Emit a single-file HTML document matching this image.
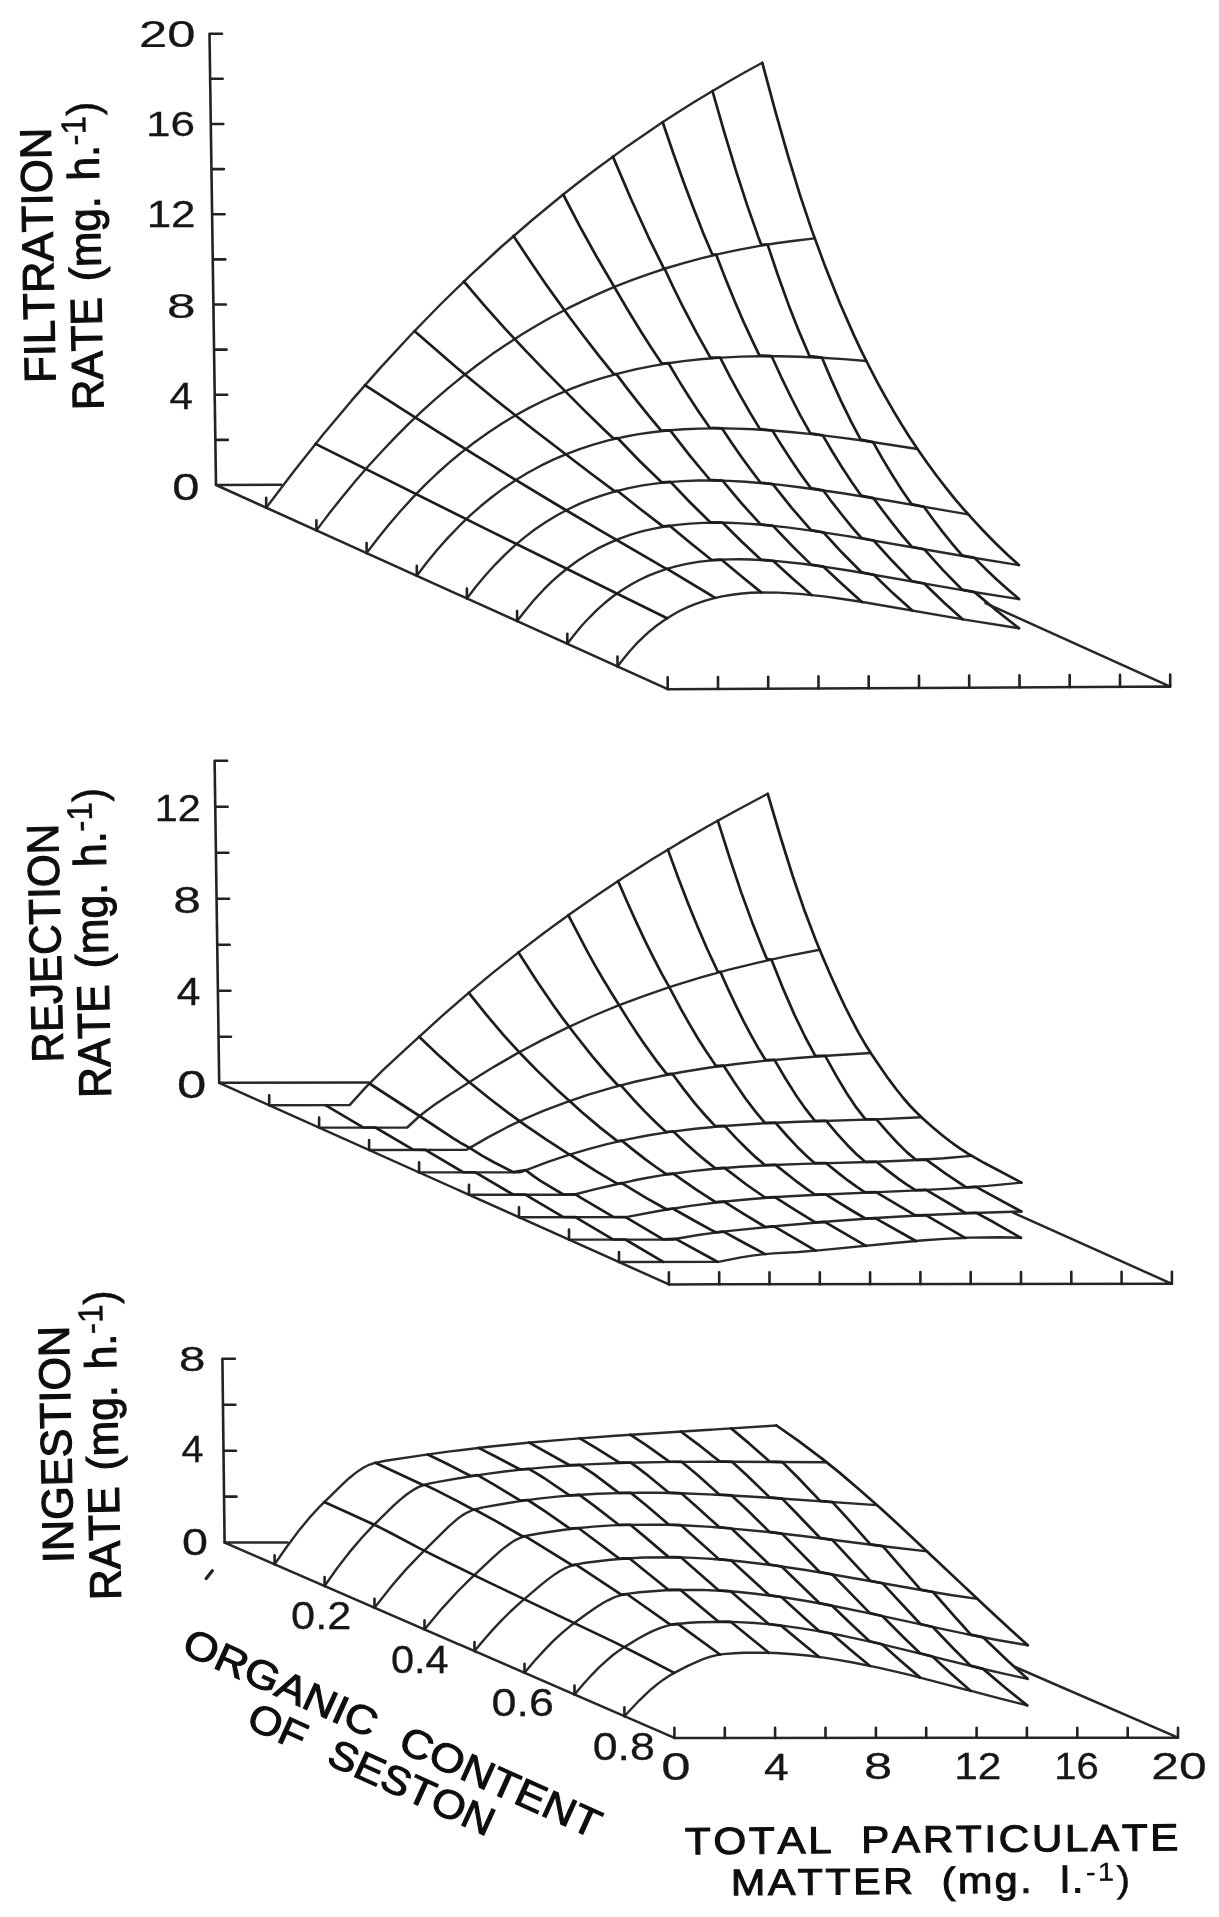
<!DOCTYPE html>
<html><head><meta charset="utf-8"><style>
html,body{margin:0;padding:0;background:#fff;}
body{width:1219px;height:1917px;overflow:hidden;position:relative;}
svg{position:absolute;left:0;top:0;}
path.o{stroke:#2a2a2a;stroke-width:2.4px}
path.t{stroke:#1e1e1e;stroke-width:2.7px}
path.b{stroke:#262626;stroke-width:2.5px}
path.a{stroke:#222;stroke-width:2.6px}
text{font-family:"Liberation Sans",sans-serif;fill:#111;font-size:100px;font-kerning:none;word-spacing:37px;stroke:#111;stroke-width:1.1px;vector-effect:non-scaling-stroke;}
text.d{stroke-width:0.3px;fill:#161616;stroke:#161616}
</style></head><body>
<svg width="1219" height="1917" viewBox="0 0 1219 1917">
<defs><filter id="bl" x="-5%" y="-5%" width="110%" height="110%"><feGaussianBlur stdDeviation="0.6"/></filter></defs>
<g filter="url(#bl)">
<g fill="none" stroke="#222" stroke-width="2.7" stroke-linecap="round" stroke-linejoin="round">
<path class="o" d="M266.2,507.7 294.5,470.4 322.9,434.8 351.3,400.9 381.0,367.1 410.7,335.0 440.4,304.5 470.1,275.6 501.1,247.0 532.2,220.0 563.2,194.5 579.4,181.8 595.5,169.5 627.8,145.9 660.2,123.8 676.4,113.3 693.8,102.3 727.4,82.2 744.9,72.3 762.3,62.8M316.4,530.4 328.7,514.1 342.3,496.9 354.6,482.0 368.2,466.3 380.6,452.7 394.2,438.4 407.8,424.7 421.5,411.7 435.1,399.4 448.8,387.7 462.4,376.5 477.3,365.0 492.2,354.1 507.2,343.9 522.1,334.3 537.1,325.3 552.0,316.8 568.2,308.2 583.2,300.8 599.4,293.3 615.6,286.4 633.1,279.6 649.4,273.8 666.9,268.0 684.4,262.8 701.9,258.1 719.5,253.9 738.2,249.9 757.0,246.4 775.8,243.3 794.6,240.7 814.7,238.4M366.6,553.1 377.7,538.5 388.8,524.7 399.9,511.7 412.3,498.1 424.6,485.4 437.0,473.5 449.4,462.4 461.9,452.1 474.3,442.5 488.0,432.7 501.6,423.7 515.3,415.5 529.1,407.9 544.0,400.5 557.8,394.3 572.7,388.2 587.7,382.7 602.8,377.9 619.0,373.4 635.3,369.4 651.6,366.1 667.9,363.3 685.4,360.9 703.0,359.0 721.8,357.6 740.6,356.6 759.5,356.2 779.6,356.2 799.7,356.7 821.1,357.7 843.7,359.1 866.3,361.0M416.8,575.8 426.6,562.8 437.7,549.3 447.6,538.1 458.8,526.5 469.9,515.7 481.1,505.8 492.3,496.7 503.4,488.4 515.9,480.0 528.3,472.5 540.8,465.7 553.3,459.6 565.8,454.3 579.5,449.1 593.3,444.6 608.3,440.4 622.1,437.3 637.1,434.4 652.1,432.2 667.2,430.5 683.5,429.3 699.8,428.6 717.4,428.3 735.0,428.6 753.9,429.3 772.7,430.5 792.9,432.2 814.2,434.4 836.9,437.1 860.8,440.3 917.5,449.0M466.9,598.5 475.6,587.1 485.5,575.2 495.4,564.3 505.3,554.3 515.2,545.2 525.1,536.9 535.1,529.3 546.3,521.7 557.5,515.0 568.7,509.0 579.9,503.7 591.2,499.1 603.7,494.8 616.2,491.1 628.7,488.1 642.5,485.4 655.0,483.6 668.8,482.1 682.6,481.1 697.7,480.5 712.8,480.5 729.1,480.9 745.4,481.8 763.0,483.2 780.7,484.9 799.5,487.2 841.1,493.0 888.9,500.7 968.3,514.4M517.1,621.1 525.8,609.9 534.4,599.6 543.1,590.2 551.7,581.7 560.4,574.0 570.4,566.0 579.1,559.8 589.0,553.5 599.0,547.9 609.0,543.1 620.2,538.4 631.5,534.4 642.7,531.2 654.0,528.6 666.5,526.3 679.1,524.6 690.4,523.6 702.9,522.9 715.5,522.7 728.0,522.8 741.9,523.4 755.7,524.3 770.8,525.6 787.2,527.4 814.9,531.1 847.6,536.1 967.2,556.7 1018.9,565.1M567.3,643.8 574.7,634.2 582.1,625.3 589.6,617.3 597.0,609.9 604.4,603.3 613.1,596.3 621.8,590.2 630.6,584.8 639.3,580.0 648.0,575.9 656.8,572.3 666.8,568.9 676.8,566.1 686.8,563.9 698.1,561.9 709.4,560.6 719.4,559.8 729.4,559.4 739.5,559.3 750.8,559.5 774.7,560.9 802.4,563.8 825.0,566.9 850.2,570.8 962.3,590.1 1019.0,599.1M617.5,666.5 623.7,658.4 629.9,651.0 636.0,644.2 643.5,636.8 649.7,631.2 657.1,625.2 664.6,619.9 672.1,615.2 679.5,611.0 688.3,606.9 695.8,603.8 704.5,600.8 713.3,598.4 722.0,596.4 732.1,594.7 742.1,593.5 750.9,592.8 759.7,592.5 778.5,592.6 799.9,593.9 823.8,596.4 842.7,599.0 864.1,602.3 966.1,619.9 1019.0,628.2"/>
<path class="t" d="M315.5,443.9 486.8,529.4 667.1,618.2M364.9,385.2 401.7,408.9 438.4,432.2 476.1,455.7 514.4,479.1 555.6,504.0 598.4,529.3 665.9,568.7 667.1,568.8 715.2,597.9M414.4,331.1 454.8,366.1 475.5,383.3 496.2,400.2 535.0,430.8 591.9,474.2 614.5,491.1 617.3,490.8 639.9,508.7 662.9,526.4 669.7,525.8 690.5,543.0 711.7,560.0 721.6,559.7 741.4,576.3 761.2,592.4M463.9,281.5 484.7,305.8 505.0,328.6 525.8,350.9 547.0,372.9 584.3,410.4 604.7,430.3 613.5,438.6 617.7,438.2 639.4,460.7 661.6,482.3 670.5,481.9 690.2,502.5 710.3,522.3 722.7,522.7 741.6,541.5 760.8,559.6 773.1,560.8 792.3,578.3 811.5,595.0M513.5,236.0 530.4,261.6 546.7,285.4 569.9,317.7 584.4,337.0 598.8,355.6 613.7,374.1 616.4,374.1 627.3,388.6 638.6,403.1 649.9,417.1 661.2,430.6 670.2,430.3 690.0,455.9 710.1,480.0 722.5,480.7 741.4,503.1 760.6,524.3 773.0,525.9 791.9,545.6 811.1,564.6 823.5,566.7 843.1,585.1 861.9,602.0M563.2,194.5 580.1,226.8 596.5,256.5 626.9,308.5 641.7,332.8 651.8,348.5 661.8,363.5 668.5,363.2 678.5,380.1 688.9,396.8 699.4,412.7 709.8,427.8 722.1,428.4 731.4,442.4 741.1,456.4 750.8,469.8 760.4,482.5 772.8,484.1 791.7,507.8 811.0,530.2 823.4,532.3 842.2,552.8 861.5,572.3 873.8,574.8 893.4,593.6 912.3,610.6M612.9,156.6 630.9,198.7 648.3,236.8 662.6,265.9 663.6,267.9 664.6,268.7 673.4,287.5 682.2,305.4 696.6,332.9 710.4,357.6 720.2,357.7 729.9,376.6 740.0,395.1 750.0,412.6 760.0,429.1 772.4,430.5 781.7,445.6 791.4,460.5 801.1,474.7 810.8,488.1 823.2,490.3 832.4,502.7 842.1,515.0 851.7,526.8 861.4,538.0 873.7,540.5 892.6,561.3 911.8,581.1 924.2,583.5 944.2,602.7 962.6,619.3M662.7,122.2 673.2,153.0 683.8,182.5 693.8,209.1 703.7,234.2 712.2,254.3 716.2,254.7 725.4,278.5 734.6,300.9 743.7,322.1 752.9,341.9 759.4,355.3 771.7,356.2 781.1,376.8 790.9,397.0 800.6,415.8 810.4,433.3 822.8,435.4 832.1,451.3 841.8,467.0 851.5,481.8 861.1,495.6 873.5,498.1 882.8,510.8 892.5,523.4 902.1,535.3 911.7,546.7 924.1,549.2 943.0,570.1 962.2,589.7 974.6,592.1 997.7,611.5 1019.0,628.2M712.5,91.0 724.3,132.3 736.1,171.2 747.4,205.8 758.1,236.4 761.1,244.3 767.6,244.6 777.8,275.0 788.4,304.4 799.0,331.4 809.6,356.2 822.0,357.7 831.4,379.9 841.2,401.4 851.0,421.3 860.7,439.7 873.1,442.1 882.4,458.6 892.1,474.8 901.8,489.9 911.5,504.1 923.9,506.7 933.2,519.5 942.8,532.1 952.5,544.1 962.1,555.4 974.5,557.9 985.6,568.9 996.7,579.4 1007.9,589.5 1019.0,599.1M762.3,62.8 775.5,111.9 788.1,156.1 800.1,195.4 811.6,229.6 825.6,267.6 840.1,303.7 854.0,335.4 861.2,350.6 868.4,365.0 876.6,380.8 884.8,395.8 893.0,410.2 901.7,424.6 909.3,436.8 917.5,449.0 927.1,462.8 936.8,476.0 946.0,487.8 955.6,499.8 964.7,510.4 974.9,521.7 985.5,533.0 996.6,544.3 1007.8,555.0 1018.9,565.1"/>
<path class="b" d="M216.0,485.0 281.3,484.7M667.7,689.2 1170.2,686.6M985.5,603.1 1170.2,686.6M216.0,485.0 667.7,689.2"/>
<path class="a" d="M216.0,485.0 L209.5,33.7M215.3,439.9 h12.5M214.7,394.7 h12.5M214.1,349.6 h12.5M213.4,304.5 h12.5M212.8,259.4 h12.5M212.1,214.2 h12.5M211.4,169.1 h12.5M210.8,124.0 h12.5M210.2,78.8 h12.5M209.5,33.7 h12.5M266.2,507.7 v-10M316.4,530.4 v-10M366.6,553.1 v-10M416.8,575.8 v-10M466.9,598.5 v-10M517.1,621.1 v-10M567.3,643.8 v-10M617.5,666.5 v-10M667.7,689.2 v-12M718.0,689.0 v-12M768.2,688.7 v-12M818.5,688.4 v-12M868.7,688.2 v-12M919.0,687.9 v-12M969.2,687.6 v-12M1019.5,687.4 v-12M1069.7,687.1 v-12M1120.0,686.9 v-12M1170.2,686.6 v-12"/>
<path class="o" d="M269.2,1105.2 349.6,1105.1 365.7,1087.4 381.9,1071.2 400.5,1053.8 442.7,1015.4 467.5,993.8 492.4,973.2 518.5,952.4 544.6,932.5 570.7,913.5 596.9,895.2 624.3,877.0 651.7,859.6 679.1,842.9 707.8,826.3 737.8,809.7 767.7,793.8M319.1,1127.6 407.2,1127.5 419.6,1116.0 427.0,1110.2 434.5,1104.8 449.5,1094.8 479.4,1075.8 494.3,1066.6 518.0,1052.9 543.0,1039.6 567.9,1027.3 592.9,1016.0 617.9,1005.7 644.2,995.8 671.7,986.4 699.3,977.9 728.1,969.9 756.9,962.8 787.0,956.1 819.6,949.7M369.1,1150.0 465.9,1149.9 467.2,1149.4 488.4,1137.1 507.1,1127.2 524.6,1118.9 543.3,1110.9 565.9,1102.4 588.4,1094.7 612.2,1087.7 636.0,1081.5 659.8,1076.3 683.6,1071.7 710.0,1067.5 736.3,1064.0 764.0,1060.9 794.1,1058.2 826.8,1055.7 870.7,1053.0M419.1,1172.4 519.7,1172.3 520.9,1172.1 547.2,1162.2 567.2,1155.4 587.3,1149.3 606.0,1144.3 627.4,1139.4 648.7,1135.3 670.0,1131.9 695.1,1128.7 727.8,1125.7 764.2,1123.3 799.4,1121.8 881.1,1119.1 921.3,1117.2M469.0,1194.8 573.4,1194.7 574.7,1194.5 593.5,1189.7 613.5,1185.0 632.3,1180.8 644.9,1178.3 661.2,1175.4 676.2,1173.2 692.5,1171.1 710.1,1169.2 740.3,1166.7 772.9,1165.0 803.1,1163.9 877.3,1161.8 912.5,1160.3 943.9,1158.3 971.5,1155.8M519.0,1217.2 625.9,1217.1 659.8,1210.7 688.6,1206.1 717.5,1202.3 748.9,1199.2 776.5,1197.0 807.9,1195.2 912.2,1190.6 949.9,1188.6 987.6,1185.9 1021.5,1182.6M569.0,1239.6 672.1,1239.5 699.7,1234.8 724.8,1231.4 780.1,1225.8 831.5,1221.3 879.3,1217.8 927.0,1215.0 973.5,1213.0 1021.3,1211.5M619.0,1262.0 718.3,1261.9 740.9,1257.4 752.2,1255.6 762.2,1254.4 773.5,1253.4 798.6,1252.0 821.3,1250.1 894.1,1243.0 924.2,1240.3 944.3,1238.9 969.5,1237.6 998.4,1237.2 1021.0,1237.8"/>
<path class="t" d="M325.4,1105.1 363.1,1127.3 375.4,1127.5 413.1,1149.7 425.4,1149.9 463.0,1172.1 475.4,1172.3 513.0,1194.5 525.3,1194.7 563.0,1216.9 575.3,1217.1 612.9,1239.3 625.3,1239.5 663.3,1261.9M369.5,1083.5 422.6,1118.0 453.7,1138.6 462.2,1143.8 469.7,1147.9 482.0,1155.6 493.9,1162.2 513.3,1172.1 525.6,1170.2 533.6,1176.2 540.9,1181.2 563.3,1194.5 575.6,1194.3 580.2,1197.4 613.3,1216.9 625.6,1217.1 663.2,1239.3 675.6,1238.9 717.7,1261.9M419.1,1036.7 437.2,1053.9 454.3,1069.3 469.4,1082.2 489.5,1098.5 507.6,1112.4 525.1,1125.1 545.6,1139.2 564.1,1151.2 569.1,1154.3 569.9,1154.5 597.2,1171.9 615.5,1182.6 617.4,1183.7 621.7,1183.1 646.5,1198.1 666.4,1209.3 672.8,1208.5 694.4,1220.7 715.6,1232.3 723.5,1231.6 744.8,1243.3 765.2,1254.1M468.8,992.8 486.5,1014.9 503.6,1035.1 518.3,1051.2 537.4,1070.9 556.5,1089.3 582.6,1112.7 600.5,1127.9 617.4,1141.1 621.8,1140.6 633.9,1150.4 645.1,1159.1 655.9,1167.0 666.2,1174.2 673.3,1173.6 695.5,1189.2 715.6,1202.2 724.0,1201.6 744.5,1214.4 765.4,1227.0 774.2,1226.4 815.6,1250.6M518.5,952.4 536.8,981.0 553.5,1005.5 562.6,1018.1 575.1,1034.5 592.4,1056.4 605.7,1072.0 618.0,1085.5 620.9,1085.3 633.2,1099.2 644.7,1111.4 655.6,1122.3 666.1,1132.0 673.4,1131.4 684.9,1142.4 695.4,1152.0 705.6,1160.6 715.3,1168.3 724.6,1167.9 746.3,1184.5 765.1,1197.5 774.9,1197.1 795.8,1210.4 815.3,1222.4 824.7,1221.9 866.0,1245.8M568.3,915.2 586.6,950.2 595.3,965.8 603.4,979.8 612.1,994.0 628.8,1020.6 637.5,1033.9 645.7,1045.9 656.3,1060.6 666.8,1074.1 672.3,1073.8 684.1,1089.6 694.9,1103.3 705.4,1115.5 715.3,1126.2 724.7,1125.9 736.1,1138.1 746.2,1148.3 755.9,1157.4 764.8,1165.0 775.6,1164.9 797.5,1182.2 806.6,1188.9 815.0,1194.5 825.6,1194.3 848.5,1208.5 865.3,1218.5 875.2,1218.1 915.9,1241.0M618.1,881.1 627.3,902.3 636.5,922.6 645.2,941.1 653.4,957.6 662.1,974.3 669.3,987.2 681.1,1009.3 689.2,1023.6 697.2,1037.2 706.6,1052.1 716.0,1065.9 723.5,1065.6 734.9,1083.1 745.3,1098.2 755.3,1111.4 764.9,1122.8 775.6,1122.8 786.7,1135.5 796.6,1146.2 806.1,1155.5 814.8,1163.2 826.2,1163.2 838.8,1173.4 848.2,1180.7 856.9,1186.9 865.1,1192.3 876.0,1192.2 915.3,1215.4 925.8,1215.1 965.2,1237.8M667.9,849.6 678.0,877.2 688.1,903.4 697.7,926.9 707.2,949.0 717.7,971.5 720.4,971.9 728.6,990.2 736.4,1006.6 743.7,1021.3 751.0,1035.1 758.3,1048.1 765.5,1060.0 774.5,1059.9 785.6,1078.8 795.8,1094.9 805.6,1108.9 814.9,1120.8 826.2,1120.9 837.6,1134.4 847.5,1145.2 856.5,1154.2 865.2,1161.8 876.4,1161.8 888.7,1171.4 898.6,1178.8 907.2,1184.9 915.5,1190.2 926.1,1189.9 965.3,1213.0 976.3,1212.9 993.8,1222.3 1021.0,1237.8M717.8,820.7 729.8,858.4 741.2,892.4 752.2,922.4 762.6,948.7 767.0,959.2 771.4,959.5 783.4,989.4 794.5,1014.9 805.2,1037.0 815.3,1055.8 825.2,1055.9 836.6,1076.4 846.7,1093.3 856.4,1107.7 865.3,1119.2 876.4,1119.3 888.0,1132.7 898.0,1143.5 907.1,1152.4 915.9,1159.8 926.2,1159.6 945.6,1173.6 966.2,1187.3 976.0,1186.9 1021.3,1211.5M767.7,793.8 780.8,838.0 792.7,876.0 804.1,909.4 815.5,939.6 822.7,957.0 830.9,976.0 838.1,991.9 845.2,1007.0 851.9,1020.2 858.5,1032.6 864.6,1043.2 870.7,1053.0 879.9,1066.6 888.5,1078.9 896.1,1089.0 903.7,1098.5 910.2,1106.0 916.8,1112.8 922.8,1118.5 932.9,1127.4 941.9,1135.0 950.9,1142.0 959.5,1148.2 967.5,1153.4 984.0,1162.8 1021.5,1182.6"/>
<path class="b" d="M219.2,1082.8 368.8,1082.6M668.9,1284.4 1171.9,1283.8M1013.0,1212.6 1171.9,1283.8M219.2,1082.8 668.9,1284.4"/>
<path class="a" d="M219.2,1082.8 L214.6,760.7M218.5,1036.8 h12.5M217.9,990.8 h12.5M217.2,944.7 h12.5M216.6,898.7 h12.5M215.9,852.7 h12.5M215.2,806.7 h12.5M214.6,760.7 h12.5M269.2,1105.2 v-10M319.1,1127.6 v-10M369.1,1150.0 v-10M419.1,1172.4 v-10M469.0,1194.8 v-10M519.0,1217.2 v-10M569.0,1239.6 v-10M619.0,1262.0 v-10M668.9,1284.4 v-12M719.2,1284.3 v-12M769.5,1284.3 v-12M819.8,1284.2 v-12M870.1,1284.2 v-12M920.4,1284.1 v-12M970.7,1284.0 v-12M1021.0,1284.0 v-12M1071.3,1283.9 v-12M1121.6,1283.9 v-12M1171.9,1283.8 v-12"/>
<path class="o" d="M274.6,1564.3 287.0,1546.5 298.1,1531.6 309.3,1517.9 320.5,1505.8 342.9,1483.9 349.1,1478.2 354.1,1474.1 359.1,1470.4 364.1,1467.3 369.1,1464.8 374.1,1463.1 385.4,1460.8 423.1,1455.1 448.2,1451.6 488.5,1446.8 530.0,1442.5 570.2,1439.1 615.5,1435.7 776.5,1425.5M324.6,1586.0 336.9,1568.5 349.3,1552.4 361.8,1537.7 372.9,1525.9 394.1,1505.2 400.3,1499.6 406.6,1494.5 412.8,1490.2 417.8,1487.4 422.8,1485.3 427.8,1483.9 436.6,1482.1 468.0,1476.7 486.9,1473.9 504.5,1471.5 523.3,1469.4 544.7,1467.4 566.1,1465.7 587.5,1464.4 626.5,1462.8 673.1,1461.9 727.2,1461.8 826.7,1462.3M374.5,1607.7 391.9,1585.8 400.6,1575.6 408.0,1567.3 419.2,1555.6 449.1,1526.1 457.8,1518.6 462.8,1515.1 466.6,1512.8 472.8,1510.0 482.9,1507.4 506.7,1503.2 521.8,1500.9 540.7,1498.4 559.5,1496.4 577.2,1495.0 597.3,1493.8 618.7,1493.1 640.1,1492.8 657.7,1492.8 681.6,1493.3 727.0,1495.2 766.0,1497.5 876.9,1505.1M424.5,1629.4 441.9,1608.6 458.1,1591.0 469.3,1579.9 492.9,1557.6 501.6,1549.9 510.4,1543.2 515.4,1540.1 519.1,1538.3 522.9,1536.8 527.9,1535.5 540.5,1533.2 560.6,1530.2 574.4,1528.5 593.3,1526.6 612.1,1525.4 624.7,1524.9 649.9,1524.6 666.3,1524.8 686.4,1525.5 706.6,1526.6 726.7,1528.1 765.8,1531.8 802.4,1536.0 889.4,1547.0 927.2,1551.4M474.5,1651.1 484.4,1639.3 493.1,1629.4 501.8,1620.1 510.5,1611.5 520.5,1602.4 540.4,1585.4 547.9,1579.4 555.4,1573.9 560.4,1570.7 564.2,1568.7 569.2,1566.5 572.9,1565.3 579.2,1563.9 585.5,1562.8 610.6,1559.8 623.2,1558.7 643.3,1557.5 677.3,1557.3 688.7,1557.6 707.6,1558.6 726.5,1560.0 741.6,1561.5 773.1,1565.3 807.2,1570.3 841.2,1576.0 928.3,1591.2 952.3,1595.2 977.5,1598.9M524.5,1672.8 534.4,1661.0 544.4,1650.1 553.1,1641.2 561.8,1633.1 570.5,1625.8 585.5,1614.8 595.5,1607.8 603.0,1603.0 608.0,1600.3 613.0,1597.9 618.0,1596.0 623.0,1594.7 630.5,1593.4 639.3,1592.3 665.8,1590.3 674.6,1590.0 702.3,1589.9 726.2,1591.0 738.8,1592.0 755.2,1593.7 786.7,1597.8 810.7,1601.8 837.2,1606.7 868.7,1613.1 940.7,1628.7 968.5,1634.5 998.7,1640.3 1027.8,1645.2M574.5,1694.5 583.2,1684.3 591.8,1674.8 599.3,1667.2 606.8,1660.3 613.0,1655.0 619.3,1650.4 624.3,1647.1 638.0,1638.8 645.5,1634.6 653.0,1630.9 660.5,1627.8 666.8,1625.8 671.8,1624.7 679.4,1623.7 689.4,1622.8 698.2,1622.3 727.2,1621.8 738.5,1622.1 754.9,1623.0 767.5,1624.1 783.9,1625.9 801.5,1628.4 815.4,1630.6 843.2,1635.8 876.0,1642.9 905.0,1649.8 983.3,1669.0 1004.8,1673.9 1027.5,1678.8M624.4,1716.2 639.4,1700.3 645.6,1694.3 651.8,1688.7 658.0,1683.6 663.0,1679.9 669.3,1675.7 674.3,1672.9 686.8,1666.4 695.6,1662.3 703.1,1659.2 710.6,1656.7 716.9,1655.1 723.2,1654.1 734.5,1653.2 744.5,1652.7 757.1,1652.6 776.0,1653.0 793.7,1654.2 807.5,1655.5 823.9,1657.6 836.5,1659.6 852.9,1662.5 879.4,1667.9 908.5,1674.7 936.3,1681.8 999.4,1698.4 1027.2,1705.4"/>
<path class="t" d="M324.2,1502.1 350.2,1513.7 379.2,1527.1 391.2,1533.2 419.7,1548.4 441.7,1559.4 485.2,1580.6 615.8,1642.9 643.3,1656.7 674.3,1672.9M375.3,1462.8 423.0,1484.9 424.6,1484.8 435.9,1490.1 449.6,1497.1 473.1,1509.5 474.5,1509.5 475.5,1510.0 495.5,1520.9 522.8,1536.5 525.0,1536.2 572.0,1565.1 575.9,1564.6 621.2,1594.7 626.9,1594.0 670.3,1624.6 677.9,1623.9 720.0,1654.5M427.7,1454.5 445.9,1463.2 470.7,1476.0 477.5,1475.2 494.4,1484.8 520.4,1500.7 527.8,1500.0 544.8,1511.2 569.9,1528.6 578.4,1528.0 619.3,1558.6 629.3,1558.3 668.3,1589.8 680.4,1589.9 718.3,1621.5 730.7,1621.8 768.8,1652.8M478.5,1447.9 496.5,1457.0 520.1,1469.5 528.7,1468.9 535.7,1472.9 544.0,1478.0 569.5,1495.3 579.4,1494.9 595.3,1506.6 618.7,1524.8 630.3,1524.8 646.1,1537.9 668.4,1556.9 680.8,1557.3 718.6,1590.3 730.9,1591.4 768.7,1624.0 781.1,1625.6 800.5,1641.8 819.2,1657.0M529.2,1442.6 569.6,1465.2 579.8,1464.8 586.9,1469.3 594.7,1474.7 618.8,1492.8 630.8,1492.9 646.1,1505.3 668.7,1524.5 681.1,1525.2 718.8,1559.1 731.2,1560.5 769.0,1595.1 781.4,1597.0 803.9,1617.5 819.1,1631.0 831.5,1633.5 851.0,1650.3 869.7,1665.8M579.8,1438.3 595.4,1447.6 619.4,1462.7 630.7,1462.7 638.0,1467.9 645.8,1473.8 668.9,1492.7 681.3,1493.3 695.8,1505.9 719.1,1527.1 731.5,1528.5 769.3,1564.5 781.6,1566.5 819.4,1603.0 831.8,1605.6 854.0,1626.8 869.6,1641.2 882.0,1644.3 901.1,1661.3 920.2,1677.6M630.3,1434.7 646.9,1445.6 669.3,1461.6 681.5,1461.8 696.4,1474.0 719.3,1494.5 731.7,1495.4 746.2,1509.1 769.5,1531.9 781.9,1533.6 819.7,1572.0 832.1,1574.4 869.9,1613.1 882.3,1616.0 904.5,1638.2 920.1,1653.2 932.5,1656.5 952.0,1674.4 970.7,1690.9M680.8,1431.5 698.0,1444.3 719.6,1461.4 732.0,1461.8 746.8,1475.2 769.7,1497.4 782.1,1498.6 796.2,1513.0 819.9,1537.8 832.3,1539.8 870.2,1580.7 882.6,1583.3 920.4,1624.0 932.8,1627.0 954.6,1649.7 970.6,1665.6 983.0,1668.9 1005.6,1688.0 1027.2,1705.4M731.1,1428.4 749.1,1443.4 769.9,1461.7 782.3,1462.1 797.6,1477.3 820.1,1500.9 832.5,1502.1 846.3,1517.2 870.4,1544.3 882.8,1546.2 920.6,1589.6 933.0,1592.0 956.0,1618.1 970.9,1634.6 983.3,1637.4 1008.5,1661.5 1027.5,1678.8M776.5,1425.5 798.1,1440.7 821.7,1458.4 839.2,1472.4 859.8,1490.0 881.4,1509.1 897.5,1523.7 989.5,1610.2 1011.2,1630.2 1027.8,1645.2"/>
<path class="b" d="M224.6,1542.6 287.6,1542.6M674.4,1737.9 1178.0,1737.7M1015.1,1667.0 1178.0,1737.7M224.6,1542.6 674.4,1737.9"/>
<path class="a" d="M224.6,1542.6 L222.4,1358.8M224.0,1496.6 h12.5M223.5,1450.7 h12.5M222.9,1404.8 h12.5M222.4,1358.8 h12.5M274.6,1564.3 v-9M324.6,1586.0 v-9M374.5,1607.7 v-9M424.5,1629.4 v-9M474.5,1651.1 v-9M524.5,1672.8 v-9M574.5,1694.5 v-9M624.4,1716.2 v-9M674.4,1737.9 v-10M724.8,1737.9 v-10M775.1,1737.9 v-10M825.5,1737.8 v-10M875.9,1737.8 v-10M926.2,1737.8 v-10M976.6,1737.8 v-10M1026.9,1737.8 v-10M1077.3,1737.7 v-10M1127.7,1737.7 v-10M1178.0,1737.7 v-10"/>
<path d="M212.3,1570.8 L206.2,1578.6" style="stroke:#222;stroke-width:3.2px"/>
</g>
<g>
<text class="d" transform="matrix(0.5069,0,0,0.3662,139.12,46.78)">20</text>
<text class="d" transform="matrix(0.4414,0,0,0.3592,146.02,136.29)">16</text>
<text class="d" transform="matrix(0.4398,0,0,0.3629,146.63,227.15)">12</text>
<text class="d" transform="matrix(0.5128,0,0,0.3563,167.10,318.09)">8</text>
<text class="d" transform="matrix(0.4216,0,0,0.3632,169.61,408.71)">4</text>
<text class="d" transform="matrix(0.4896,0,0,0.3662,172.29,499.88)">0</text>
<text class="d" transform="matrix(0.4143,0,0,0.3600,154.74,820.55)">12</text>
<text class="d" transform="matrix(0.4957,0,0,0.3761,173.37,912.97)">8</text>
<text class="d" transform="matrix(0.4255,0,0,0.3853,176.80,1005.24)">4</text>
<text class="d" transform="matrix(0.5271,0,0,0.3930,176.94,1098.16)">0</text>
<text class="d" transform="matrix(0.4745,0,0,0.3465,179.05,1371.10)">8</text>
<text class="d" transform="matrix(0.3961,0,0,0.3618,181.56,1461.91)">4</text>
<text class="d" transform="matrix(0.4667,0,0,0.3620,181.98,1555.49)">0</text>
<text class="d" transform="matrix(0.5271,0,0,0.3831,661.34,1779.87)">0</text>
<text class="d" transform="matrix(0.4451,0,0,0.3735,764.06,1779.52)">4</text>
<text class="d" transform="matrix(0.5064,0,0,0.3761,864.02,1779.07)">8</text>
<text class="d" transform="matrix(0.4235,0,0,0.3714,954.16,1778.55)">12</text>
<text class="d" transform="matrix(0.4010,0,0,0.3746,1054.14,1778.58)">16</text>
<text class="d" transform="matrix(0.4990,0,0,0.3746,1151.35,1778.58)">20</text>
<text class="d" transform="matrix(0.4323,0,0,0.3944,291.12,1629.06)">0.2</text>
<text class="d" transform="matrix(0.4152,0,0,0.3803,390.89,1673.37)">0.4</text>
<text class="d" transform="matrix(0.4489,0,0,0.3817,491.45,1716.47)">0.6</text>
<text class="d" transform="matrix(0.4481,0,0,0.3859,592.66,1759.56)">0.8</text>
<text transform="translate(39.75,379.65) rotate(-91.07) scale(0.4380,0.4415) translate(-8,35.5)" style="word-spacing:0px">FILTRATION</text>
<text transform="translate(87.65,406.75) rotate(-91.07) scale(0.4236,0.4423) translate(-8,35.5)" style="word-spacing:10px">RATE (mg. h.<tspan dy="-29" font-size="78">-1</tspan><tspan dy="29">)</tspan></text>
<text transform="translate(47.40,1059.15) rotate(-91.28) scale(0.4210,0.4451) translate(-8,35.5)" style="word-spacing:0px">REJECTION</text>
<text transform="translate(94.65,1094.55) rotate(-91.20) scale(0.4261,0.4563) translate(-8,35.5)" style="word-spacing:10px">RATE (mg. h.<tspan dy="-29" font-size="78">-1</tspan><tspan dy="29">)</tspan></text>
<text transform="translate(57.85,1559.15) rotate(-91.15) scale(0.4314,0.4387) translate(-9,35.5)" style="word-spacing:0px">INGESTION</text>
<text transform="translate(105.15,1596.55) rotate(-91.15) scale(0.4254,0.4423) translate(-8,35.5)" style="word-spacing:10px">RATE (mg. h.<tspan dy="-29" font-size="78">-1</tspan><tspan dy="29">)</tspan></text>
<text transform="translate(685.95,1854.30) rotate(-0.47) scale(0.4230,0.3775) translate(-2,0)" style="word-spacing:30px;letter-spacing:6.11px">TOTAL PARTICULATE</text>
<text transform="translate(734.35,1895.20) rotate(-0.47) scale(0.4131,0.3690) translate(-8,0)" style="word-spacing:30px;letter-spacing:5.91px">MATTER (mg. l.<tspan dy="-31" font-size="70">-1</tspan><tspan dy="31">)</tspan></text>
<text transform="translate(180.0,1652.6) rotate(24.25) scale(0.447,0.40)" style="word-spacing:37px">ORGANIC CONTENT</text>
<text transform="translate(244.7,1726.8) rotate(24.4) scale(0.433,0.40)" style="word-spacing:37px">OF SESTON</text>
</g>
</g>
</svg>
</body></html>
